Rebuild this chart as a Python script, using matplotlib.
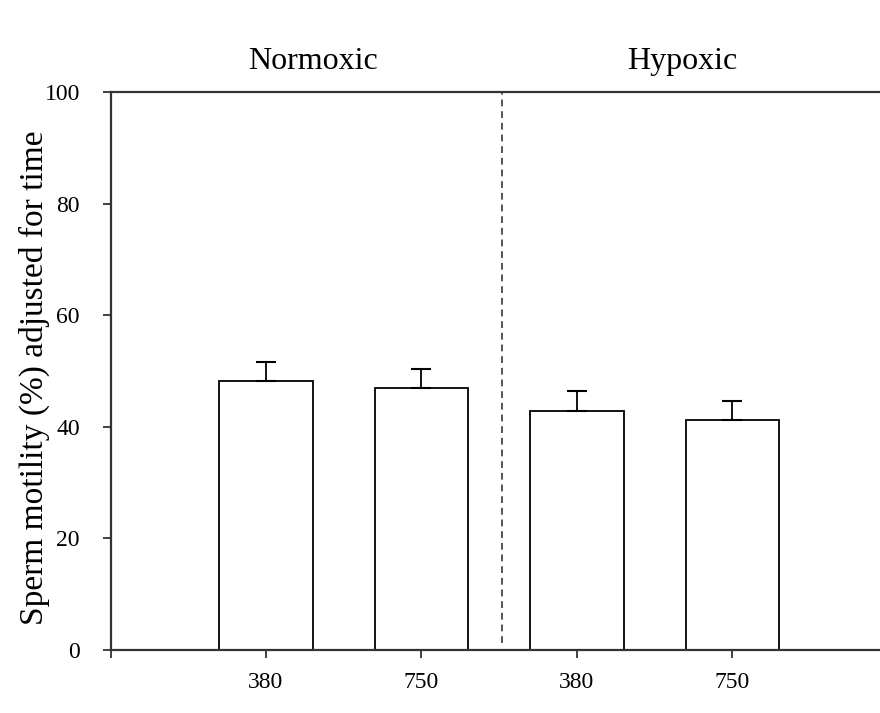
import numpy as np
import matplotlib.pyplot as plt

plt.rcParams['font.family'] = ['Liberation Serif', 'DejaVu Serif']

co2_labels = ['380', '750', '380', '750']
motility = [48.2, 46.9, 42.8, 41.3]
motility_se = [3.4, 3.4, 3.6, 3.3]
groups = ['Normoxic', 'Hypoxic']

x = np.arange(1, len(motility) + 1)

fig = plt.figure(figsize=(8.8, 7.13), dpi=100)
ax = fig.add_axes([110.5 / 880, 1 - 650 / 713, (880 - 110.5) / 880, (650 - 92) / 713])

ax.bar(x, motility, width=0.6, color='white', edgecolor='black', linewidth=1.3, zorder=2)
ax.errorbar(x, motility, yerr=[[0] * 4, motility_se], fmt='none', ecolor='black',
            elinewidth=1.3, capsize=7, capthick=1.5, zorder=3)

# group divider
ax.plot([2.52, 2.52], [1.3, 100], color='#555555', linestyle=(0, (3.5, 2.5)), linewidth=1.4, zorder=1)

ax.set_xlim(0, 4.95)
ax.set_ylim(0, 100)
ax.set_yticks([0, 20, 40, 60, 80, 100])
ax.set_xticks([0, 1, 2, 3, 4])
ax.set_xticklabels([''] + co2_labels)

for s in ['left', 'bottom', 'top']:
    ax.spines[s].set_linewidth(1.6)
    ax.spines[s].set_color('#333333')
ax.spines['right'].set_visible(False)

ax.tick_params(axis='both', direction='out', length=6, width=1.3, color='#333333', labelsize=17)
ax.tick_params(axis='x', pad=10)
ax.tick_params(axis='y', pad=16)

ax.set_ylabel('Sperm motility (%) adjusted for time', fontsize=24)
ax.yaxis.set_label_coords(-0.078, 0.488)

ax.text(1.30, 102.8, groups[0], ha='center', va='bottom', fontsize=23)
ax.text(3.68, 102.8, groups[1], ha='center', va='bottom', fontsize=23)

fig.savefig('out.png', dpi=100)
